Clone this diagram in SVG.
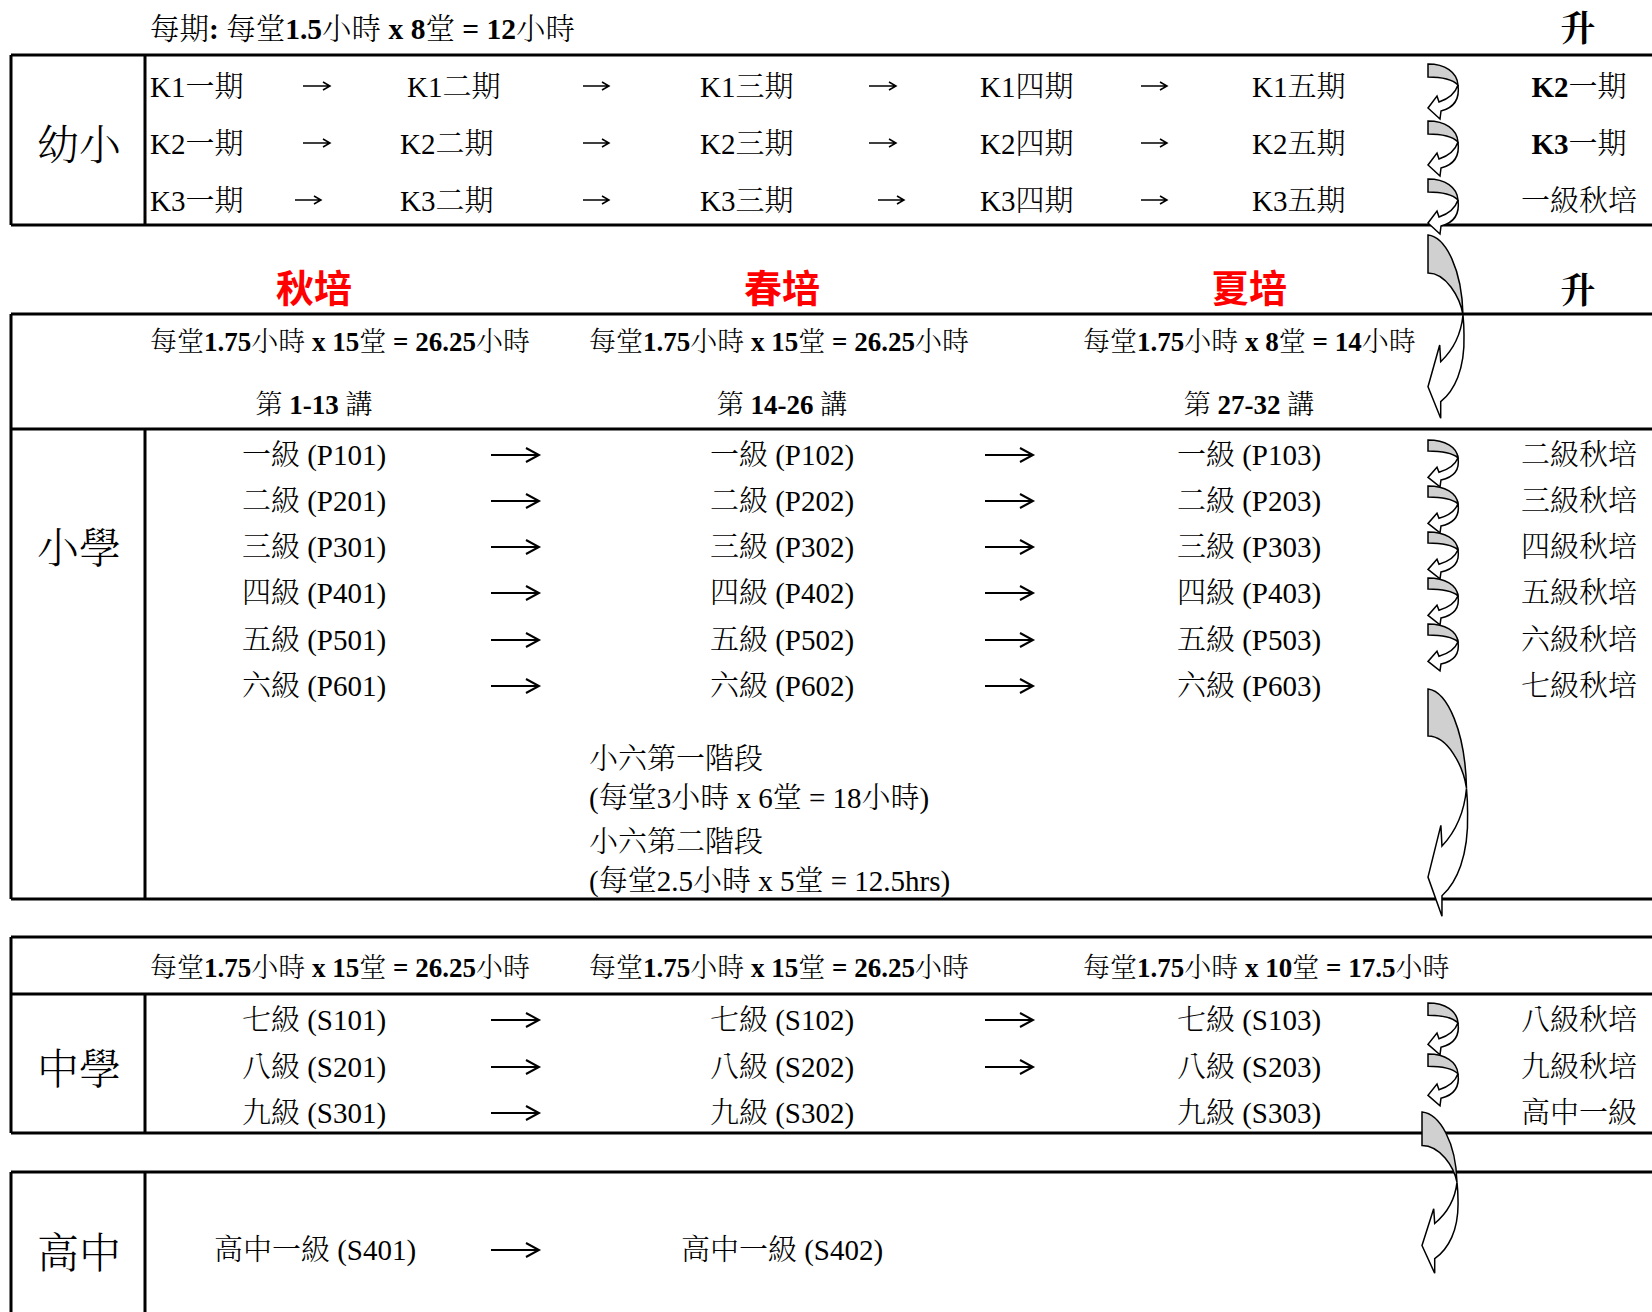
<svg xmlns="http://www.w3.org/2000/svg" xmlns:xlink="http://www.w3.org/1999/xlink" width="1652" height="1312" viewBox="0 0 1652 1312">
<style>
text{font-family:"Liberation Serif","Noto Serif CJK TC","Noto Sans CJK TC",serif;font-size:29px;font-weight:300;fill:#000}
.b{font-weight:bold}
.m{text-anchor:middle}
.tt{font-size:29.5px}
.hd{font-size:27px}
.lab{font-size:42px}
.red{font-family:"Noto Sans CJK TC","Liberation Sans",sans-serif;font-size:38px;font-weight:bold;fill:#FF0000;text-anchor:middle}
.up{font-size:35px;font-weight:bold;text-anchor:middle}
.frame{stroke:#000;stroke-width:3;fill:none}
.sa{stroke:#000;stroke-width:1.5;fill:none}
.la{stroke:#000;stroke-width:2;fill:none}
.g{fill:#D0D0D0;stroke:#000;stroke-width:1.5;stroke-linejoin:miter;vector-effect:non-scaling-stroke}
.w{fill:#FFFFFF;stroke:#000;stroke-width:1.5;stroke-linejoin:miter;vector-effect:non-scaling-stroke}
</style>
<defs>
<g id="curl">
<path class="w" d="M30,21 C32,36 25,44 13,47 L12,55 L0,44 L9,32 L11,38 C20,35 27,30 30,21 Z"/>
<path class="g" d="M0,0 C17,0 29,8 30,21 C25,16 14,13 0,13 Z"/>
</g>
<g id="big">
<path class="w" d="M35,80 C33,100 25,115 12.7,126.7 L11.7,110 L0,151.7 L12.7,183.3 L12.7,166.7 C26,156 37,135 36,100 C36,92 35.5,85 35,80 Z"/>
<path class="g" d="M0,0 C18,2 34,35 35,80 C32,62 18,38 0,38 Z"/>
</g>
</defs>
<rect width="1652" height="1312" fill="#fff"/>

<g id="frames">
<path class="frame" d="M11,55 H1652 M11,225 H1652 M11,55 V225 M145,55 V225"/>
<path class="frame" d="M11,314 H1652 M11,429 H1652 M11,899 H1652 M11,314 V899 M145,429 V899"/>
<path class="frame" d="M11,937 H1652 M11,994 H1652 M11,1133 H1652 M11,937 V1133 M145,994 V1133"/>
<path class="frame" d="M11,1172 H1652 M11,1172 V1312 M145,1172 V1312"/>
</g>

<g id="headings">
<text class="tt" x="150" y="39">每期<tspan class="b">:</tspan> 每堂<tspan class="b">1.5</tspan>小時 <tspan class="b">x 8</tspan>堂 <tspan class="b">= 12</tspan>小時</text>
<text class="up" x="1578" y="41">升</text>
<text class="up" x="1578" y="303">升</text>
<text class="red" x="314" y="302">秋培</text>
<text class="red" x="782" y="302">春培</text>
<text class="red" x="1249" y="302">夏培</text>
</g>

<g id="node-kinder">
<text class="lab m" x="79" y="160">幼小</text>
<text x="150" y="97">K1一期</text><text x="407" y="97">K1二期</text><text x="700" y="97">K1三期</text><text x="980" y="97">K1四期</text><text x="1252" y="97">K1五期</text>
<text class="m" x="1579" y="97"><tspan class="b">K2</tspan>一期</text>
<text x="150" y="154">K2一期</text><text x="400" y="154">K2二期</text><text x="700" y="154">K2三期</text><text x="980" y="154">K2四期</text><text x="1252" y="154">K2五期</text>
<text class="m" x="1579" y="154"><tspan class="b">K3</tspan>一期</text>
<text x="150" y="211">K3一期</text><text x="400" y="211">K3二期</text><text x="700" y="211">K3三期</text><text x="980" y="211">K3四期</text><text x="1252" y="211">K3五期</text>
<text class="m" x="1579" y="211">一級秋培</text>
</g>

<g id="node-primary">
<text class="hd" x="150" y="351">每堂<tspan class="b">1.75</tspan>小時 <tspan class="b">x 15</tspan>堂 <tspan class="b">= 26.25</tspan>小時</text>
<text class="hd" x="589" y="351">每堂<tspan class="b">1.75</tspan>小時 <tspan class="b">x 15</tspan>堂 <tspan class="b">= 26.25</tspan>小時</text>
<text class="hd" x="1083" y="351">每堂<tspan class="b">1.75</tspan>小時 <tspan class="b">x 8</tspan>堂 <tspan class="b">= 14</tspan>小時</text>
<text class="hd m" x="314" y="414">第 <tspan class="b">1-13</tspan> 講</text>
<text class="hd m" x="782" y="414">第 <tspan class="b">14-26</tspan> 講</text>
<text class="hd m" x="1249" y="414">第 <tspan class="b">27-32</tspan> 講</text>
<text class="lab m" x="79" y="563">小學</text>
<text class="m" x="314" y="465">一級 (P101)</text><text class="m" x="782" y="465">一級 (P102)</text><text class="m" x="1249" y="465">一級 (P103)</text><text class="m" x="1579" y="465">二級秋培</text>
<text class="m" x="314" y="511">二級 (P201)</text><text class="m" x="782" y="511">二級 (P202)</text><text class="m" x="1249" y="511">二級 (P203)</text><text class="m" x="1579" y="511">三級秋培</text>
<text class="m" x="314" y="557">三級 (P301)</text><text class="m" x="782" y="557">三級 (P302)</text><text class="m" x="1249" y="557">三級 (P303)</text><text class="m" x="1579" y="557">四級秋培</text>
<text class="m" x="314" y="603">四級 (P401)</text><text class="m" x="782" y="603">四級 (P402)</text><text class="m" x="1249" y="603">四級 (P403)</text><text class="m" x="1579" y="603">五級秋培</text>
<text class="m" x="314" y="650">五級 (P501)</text><text class="m" x="782" y="650">五級 (P502)</text><text class="m" x="1249" y="650">五級 (P503)</text><text class="m" x="1579" y="650">六級秋培</text>
<text class="m" x="314" y="696">六級 (P601)</text><text class="m" x="782" y="696">六級 (P602)</text><text class="m" x="1249" y="696">六級 (P603)</text><text class="m" x="1579" y="696">七級秋培</text>
<text x="589" y="769">小六第一階段</text>
<text x="589" y="808">(每堂3小時 x 6堂 = 18小時)</text>
<text x="589" y="852">小六第二階段</text>
<text x="589" y="891">(每堂2.5小時 x 5堂 = 12.5hrs)</text>
</g>

<g id="node-secondary">
<text class="hd" x="150" y="977">每堂<tspan class="b">1.75</tspan>小時 <tspan class="b">x 15</tspan>堂 <tspan class="b">= 26.25</tspan>小時</text>
<text class="hd" x="589" y="977">每堂<tspan class="b">1.75</tspan>小時 <tspan class="b">x 15</tspan>堂 <tspan class="b">= 26.25</tspan>小時</text>
<text class="hd" x="1083" y="977">每堂<tspan class="b">1.75</tspan>小時 <tspan class="b">x 10</tspan>堂 <tspan class="b">= 17.5</tspan>小時</text>
<text class="lab m" x="79" y="1084">中學</text>
<text class="m" x="314" y="1030">七級 (S101)</text><text class="m" x="782" y="1030">七級 (S102)</text><text class="m" x="1249" y="1030">七級 (S103)</text><text class="m" x="1579" y="1030">八級秋培</text>
<text class="m" x="314" y="1077">八級 (S201)</text><text class="m" x="782" y="1077">八級 (S202)</text><text class="m" x="1249" y="1077">八級 (S203)</text><text class="m" x="1579" y="1077">九級秋培</text>
<text class="m" x="314" y="1123">九級 (S301)</text><text class="m" x="782" y="1123">九級 (S302)</text><text class="m" x="1249" y="1123">九級 (S303)</text><text class="m" x="1579" y="1123">高中一級</text>
</g>

<g id="node-senior">
<text class="lab m" x="79" y="1268">高中</text>
<text class="m" x="315" y="1260">高中一級 (S401)</text>
<text class="m" x="782" y="1260">高中一級 (S402)</text>
</g>

<g id="connectors">
<path class="sa" d="M303,86 H330 M323,82 L330,86 L323,90 M583,86 H609 M602,82 L609,86 L602,90 M869,86 H896 M889,82 L896,86 L889,90 M1141,86 H1167 M1160,82 L1167,86 L1160,90"/>
<path class="sa" d="M303,143 H330 M323,139 L330,143 L323,147 M583,143 H609 M602,139 L609,143 L602,147 M869,143 H896 M889,139 L896,143 L889,147 M1141,143 H1167 M1160,139 L1167,143 L1160,147"/>
<path class="sa" d="M295,200 H321 M314,196 L321,200 L314,204 M583,200 H609 M602,196 L609,200 L602,204 M878,200 H904 M897,196 L904,200 L897,204 M1141,200 H1167 M1160,196 L1167,200 L1160,204"/>
<g class="la">
<path d="M491,455 H539 M526,448 L539,455 L526,462 M985,455 H1033 M1020,448 L1033,455 L1020,462"/>
<path d="M491,501 H539 M526,494 L539,501 L526,508 M985,501 H1033 M1020,494 L1033,501 L1020,508"/>
<path d="M491,547 H539 M526,540 L539,547 L526,554 M985,547 H1033 M1020,540 L1033,547 L1020,554"/>
<path d="M491,593 H539 M526,586 L539,593 L526,600 M985,593 H1033 M1020,586 L1033,593 L1020,600"/>
<path d="M491,640 H539 M526,633 L539,640 L526,647 M985,640 H1033 M1020,633 L1033,640 L1020,647"/>
<path d="M491,686 H539 M526,679 L539,686 L526,693 M985,686 H1033 M1020,679 L1033,686 L1020,693"/>
<path d="M491,1020 H539 M526,1013 L539,1020 L526,1027 M985,1020 H1033 M1020,1013 L1033,1020 L1020,1027"/>
<path d="M491,1067 H539 M526,1060 L539,1067 L526,1074 M985,1067 H1033 M1020,1060 L1033,1067 L1020,1074"/>
<path d="M491,1113 H539 M526,1106 L539,1113 L526,1120"/>
<path d="M491,1250 H539 M526,1243 L539,1250 L526,1257"/>
</g>
<use xlink:href="#curl" transform="translate(1428,64)"/>
<use xlink:href="#curl" transform="translate(1428,121)"/>
<use xlink:href="#curl" transform="translate(1428,179)"/>
<use xlink:href="#big" transform="translate(1428,235)"/>
<use xlink:href="#curl" transform="translate(1428,440) scale(1,0.85)"/>
<use xlink:href="#curl" transform="translate(1428,486) scale(1,0.85)"/>
<use xlink:href="#curl" transform="translate(1428,532) scale(1,0.85)"/>
<use xlink:href="#curl" transform="translate(1428,578) scale(1,0.85)"/>
<use xlink:href="#curl" transform="translate(1428,624) scale(1,0.85)"/>
<use xlink:href="#big" transform="translate(1428,689) scale(1.1,1.24)"/>
<use xlink:href="#curl" transform="translate(1428,1003) scale(1,0.94)"/>
<use xlink:href="#curl" transform="translate(1428,1054) scale(1,0.94)"/>
<use xlink:href="#big" transform="translate(1422,1112) scale(1,0.88)"/>
</g>
</svg>
